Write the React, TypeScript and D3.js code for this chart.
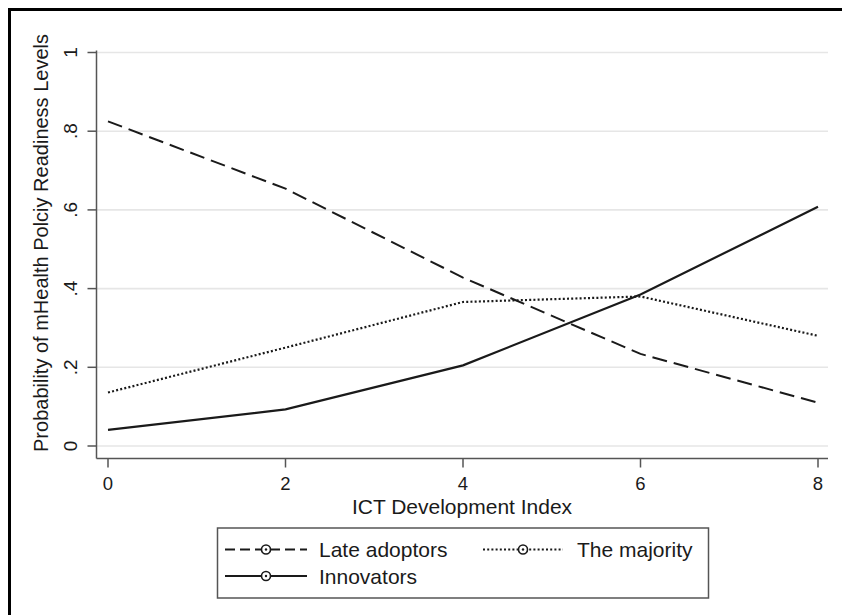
import { useRef, useEffect } from "react";
import * as d3 from "d3";

const xValues = [0, 2, 4, 6, 8];
const lateAdoptors = [0.825, 0.654, 0.428, 0.234, 0.11];
const theMajority = [0.136, 0.25, 0.366, 0.38, 0.28];
const innovators = [0.041, 0.093, 0.205, 0.385, 0.608];
const yTicks = [0, 0.2, 0.4, 0.6, 0.8, 1];
const yTickLabels = ["0", ".2", ".4", ".6", ".8", "1"];
const xTicks = [0, 2, 4, 6, 8];

const series = [
  { name: "Late adoptors", values: lateAdoptors, dash: "15,7", width: 2 },
  { name: "The majority", values: theMajority, dash: "2,2.2", width: 2.2 },
  { name: "Innovators", values: innovators, dash: null, width: 2.2 },
];

const W = 842;
const H = 615;
const FONT = "'Liberation Sans', Arial, sans-serif";
const INK = "#1a1a1a";

const App = () => {
  const svgRef = useRef<SVGSVGElement>(null);

  useEffect(() => {
    const svg = d3.select(svgRef.current);
    svg.selectAll("*").remove();

    svg.append("rect").attr("width", W).attr("height", H).attr("fill", "#fff");
    // outer frame: only the left and top edges show in the picture
    svg.append("line")
      .attr("x1", 9.5).attr("x2", 9.5).attr("y1", 8).attr("y2", H)
      .attr("stroke", "#000").attr("stroke-width", 3);
    svg.append("line")
      .attr("x1", 8).attr("x2", W).attr("y1", 9.5).attr("y2", 9.5)
      .attr("stroke", "#000").attr("stroke-width", 3);

    const x = d3.scaleLinear().domain([0, 8]).range([108, 818]);
    const y = d3.scaleLinear().domain([0, 1]).range([446, 52.5]);
    const plotLeft = 96.5;
    const plotRight = 828;
    const axisY = 458.5;

    // gridlines
    svg.selectAll(".grid")
      .data(yTicks)
      .enter()
      .append("line")
      .attr("x1", plotLeft).attr("x2", plotRight)
      .attr("y1", (d) => y(d)).attr("y2", (d) => y(d))
      .attr("stroke", "#e6e6e6").attr("stroke-width", 1.6);

    // y axis
    svg.append("line")
      .attr("x1", plotLeft).attr("x2", plotLeft)
      .attr("y1", y(1) - 2).attr("y2", axisY)
      .attr("stroke", "#555").attr("stroke-width", 1.5);
    yTicks.forEach((t, i) => {
      svg.append("line")
        .attr("x1", plotLeft - 9).attr("x2", plotLeft)
        .attr("y1", y(t)).attr("y2", y(t))
        .attr("stroke", "#555").attr("stroke-width", 1.5);
      svg.append("text")
        .attr("transform", `translate(77,${y(t)}) rotate(-90)`)
        .attr("text-anchor", "middle")
        .style("font-family", FONT).style("font-size", "19px").style("fill", INK)
        .text(yTickLabels[i]);
    });

    // x axis
    svg.append("line")
      .attr("x1", plotLeft).attr("x2", plotRight)
      .attr("y1", axisY).attr("y2", axisY)
      .attr("stroke", "#555").attr("stroke-width", 1.5);
    xTicks.forEach((t) => {
      svg.append("line")
        .attr("x1", x(t)).attr("x2", x(t))
        .attr("y1", axisY).attr("y2", axisY + 9)
        .attr("stroke", "#555").attr("stroke-width", 1.5);
      svg.append("text")
        .attr("x", x(t)).attr("y", 490)
        .attr("text-anchor", "middle")
        .style("font-family", FONT).style("font-size", "18.5px").style("fill", INK)
        .text(String(t));
    });

    svg.append("text")
      .attr("x", 462).attr("y", 514)
      .attr("text-anchor", "middle")
      .style("font-family", FONT).style("font-size", "21px").style("fill", INK)
      .text("ICT Development Index");

    svg.append("text")
      .attr("transform", `translate(48,243) rotate(-90)`)
      .attr("text-anchor", "middle")
      .style("font-family", FONT).style("font-size", "20px").style("fill", INK)
      .text("Probability of mHealth Polciy Readiness Levels");

    // lines
    const line = d3.line<number>()
      .x((_, i) => x(xValues[i]))
      .y((d) => y(d));

    series.forEach((s) => {
      const p = svg.append("path")
        .datum(s.values)
        .attr("fill", "none")
        .attr("stroke", INK)
        .attr("stroke-width", s.width)
        .attr("d", line);
      if (s.dash) p.attr("stroke-dasharray", s.dash);
    });

    // legend
    const lg = svg.append("g");
    lg.append("rect")
      .attr("x", 217.5).attr("y", 528)
      .attr("width", 491).attr("height", 70)
      .attr("fill", "#fff").attr("stroke", "#555").attr("stroke-width", 1.5);

    const items = [
      { s: series[0], x0: 225, x1: 307, cy: 549.5, tx: 319 },
      { s: series[1], x0: 483, x1: 563, cy: 549.5, tx: 577 },
      { s: series[2], x0: 225, x1: 307, cy: 576, tx: 319 },
    ];
    items.forEach(({ s, x0, x1, cy, tx }) => {
      const l = lg.append("line")
        .attr("x1", x0).attr("x2", x1)
        .attr("y1", cy).attr("y2", cy)
        .attr("stroke", INK).attr("stroke-width", s.width);
      if (s.dash) l.attr("stroke-dasharray", s.dash === "15,7" ? "10,5" : s.dash);
      const cx = (x0 + x1) / 2;
      lg.append("circle")
        .attr("cx", cx).attr("cy", cy).attr("r", 4.5)
        .attr("fill", "#fff").attr("stroke", INK).attr("stroke-width", 1.6);
      lg.append("circle")
        .attr("cx", cx).attr("cy", cy).attr("r", 1.2)
        .attr("fill", INK);
      lg.append("text")
        .attr("x", tx).attr("y", cy + 7.5)
        .style("font-family", FONT).style("font-size", "21px").style("fill", INK)
        .text(s.name);
    });
  }, []);

  return (
    <div style={{ position: "absolute", left: 0, top: 0, width: W, height: H }}>
      <svg ref={svgRef} width={W} height={H} style={{ display: "block" }}></svg>
    </div>
  );
};

export default App;
